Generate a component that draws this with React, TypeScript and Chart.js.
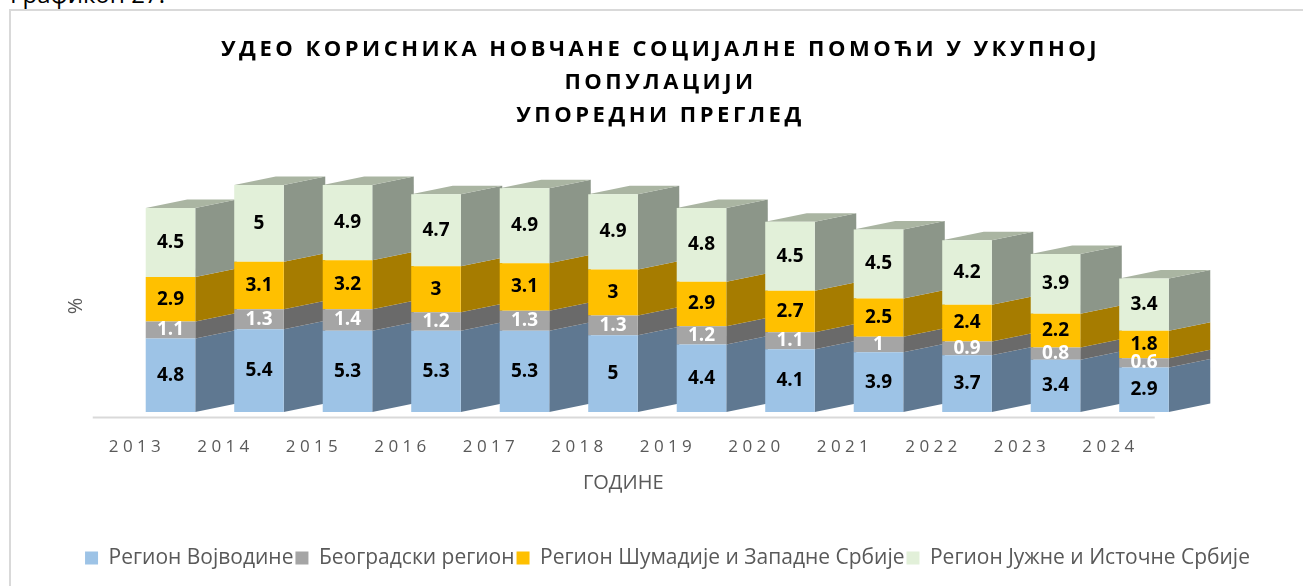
import React, { useEffect, useRef } from "react";
import { Chart, registerables } from "chart.js";

Chart.register(...registerables);

const years = ["2013", "2014", "2015", "2016", "2017", "2018", "2019", "2020", "2021", "2022", "2023", "2024"];
const vojvodina = [4.8, 5.4, 5.3, 5.3, 5.3, 5, 4.4, 4.1, 3.9, 3.7, 3.4, 2.9];
const belgrade = [1.1, 1.3, 1.4, 1.2, 1.3, 1.3, 1.2, 1.1, 1, 0.9, 0.8, 0.6];
const sumadija = [2.9, 3.1, 3.2, 3, 3.1, 3, 2.9, 2.7, 2.5, 2.4, 2.2, 1.8];
const south = [4.5, 5, 4.9, 4.7, 4.9, 4.9, 4.8, 4.5, 4.5, 4.2, 3.9, 3.4];

const seriesNames = ["Регион Војводине", "Београдски регион", "Регион Шумадије и Западне Србије", "Регион Јужне и Источне Србије"];
const frontColors = ["#9DC3E6", "#A5A5A5", "#FFC000", "#E2F0D9"];
const sideColors = ["#5F7891", "#6A6A6A", "#A67C00", "#8C9689"];
const labelColors = ["#000000", "#FFFFFF", "#000000", "#000000"];
const TOP_COLOR = "#AAB5A2";
const DEPTH_X = 41.5;
const DEPTH_Y = 8.5;
const LABEL_SHIFT = -33.5;
const FONT = "'Open Sans', sans-serif";

function shift(obj: any, method: string, dx: number, dy: number, spacing?: string) {
  const orig = obj[method];
  obj[method] = function (...args: any[]) {
    const ctx = this.ctx;
    ctx.save();
    ctx.translate(dx, dy);
    if (spacing) ctx.letterSpacing = spacing;
    orig.apply(this, args);
    ctx.restore();
  };
}

const patched = new WeakSet<object>();

const prism3d = {
  id: "prism3d",
  beforeDraw(chart: any) {
    if (patched.has(chart)) return;
    patched.add(chart);
    shift(chart.titleBlock, "draw", 9, 0, "3.5px");
    shift(chart.legend, "draw", 16, 0);
    shift(chart.scales.x, "drawLabels", 0, 0, "4.4px");
    shift(chart.scales.x, "drawTitle", -34, 0);
    shift(chart.scales.y, "drawTitle", 0, 32);
  },
  beforeDatasetsDraw(chart: any) {
    const { ctx, scales } = chart;
    ctx.save();
    ctx.strokeStyle = "#D9D9D9";
    ctx.lineWidth = 2;
    ctx.beginPath();
    ctx.moveTo(scales.x.left + LABEL_SHIFT, scales.x.top + 5.5);
    ctx.lineTo(scales.x.right + LABEL_SHIFT, scales.x.top + 5.5);
    ctx.stroke();
    const count = chart.data.labels.length;
    const metas = chart.data.datasets.map((_: any, i: number) => chart.getDatasetMeta(i));
    for (let c = 0; c < count; c++) {
      metas.forEach((meta: any, d: number) => {
        const el = meta.data[c];
        const right = el.x + el.width / 2;
        ctx.fillStyle = sideColors[d];
        ctx.beginPath();
        ctx.moveTo(right, el.base);
        ctx.lineTo(right + DEPTH_X, el.base - DEPTH_Y);
        ctx.lineTo(right + DEPTH_X, el.y - DEPTH_Y);
        ctx.lineTo(right, el.y);
        ctx.closePath();
        ctx.fill();
        if (d === metas.length - 1) {
          const left = el.x - el.width / 2;
          ctx.fillStyle = TOP_COLOR;
          ctx.beginPath();
          ctx.moveTo(left, el.y);
          ctx.lineTo(right, el.y);
          ctx.lineTo(right + DEPTH_X, el.y - DEPTH_Y);
          ctx.lineTo(left + DEPTH_X, el.y - DEPTH_Y);
          ctx.closePath();
          ctx.fill();
        }
      });
    }
    ctx.restore();
  },
  afterDatasetsDraw(chart: any) {
    const { ctx } = chart;
    ctx.save();
    ctx.font = `bold 19px ${FONT}`;
    ctx.textAlign = "center";
    ctx.textBaseline = "middle";
    chart.data.datasets.forEach((ds: any, d: number) => {
      chart.getDatasetMeta(d).data.forEach((el: any, i: number) => {
        ctx.fillStyle = labelColors[d];
        ctx.fillText(String(ds.data[i]), el.x, (el.y + el.base) / 2);
      });
    });
    ctx.restore();
  },
};

export default function App() {
  const ref = useRef<HTMLCanvasElement>(null);
  useEffect(() => {
    document.body.style.margin = "0";
    const data = [vojvodina, belgrade, sumadija, south];
    const chart = new Chart(ref.current!, {
      type: "bar",
      data: {
        labels: years,
        datasets: seriesNames.map((label, i) => ({
          label,
          data: data[i],
          backgroundColor: frontColors[i],
          borderWidth: 0,
          barPercentage: 0.56,
          categoryPercentage: 1,
        })),
      },
      plugins: [prism3d],
      options: {
        animation: false,
        responsive: false,
        layout: { padding: { left: 0, right: 0, top: 28, bottom: 7.5 } },
        plugins: {
          tooltip: { enabled: false },
          title: {
            display: true,
            text: ["УДЕО КОРИСНИКА НОВЧАНЕ СОЦИЈАЛНЕ ПОМОЋИ У УКУПНОЈ", "ПОПУЛАЦИЈИ", "УПОРЕДНИ ПРЕГЛЕД"],
            color: "#000000",
            font: { family: FONT, size: 22, weight: "bold", lineHeight: 1.5 },
            padding: { top: 5, bottom: 4 },
          },
          legend: {
            position: "bottom",
            labels: {
              font: { family: FONT, size: 21 },
              color: "#595959",
              boxWidth: 13,
              boxHeight: 13,
              padding: 2,
            },
          },
        },
        scales: {
          x: {
            stacked: true,
            afterFit: (s: any) => { s.height = 133.5; },
            grid: { display: false },
            border: { display: false },
            ticks: {
              autoSkip: false,
              maxRotation: 0,
              labelOffset: LABEL_SHIFT,
              color: "#595959",
              font: { family: FONT, size: 17 },
              padding: 16.5,
            },
            title: {
              display: true,
              text: "ГОДИНЕ",
              color: "#595959",
              font: { family: FONT, size: 20 },
              padding: { top: 0, bottom: 50 },
            },
          },
          y: {
            stacked: true,
            min: 0,
            max: 18,
            afterFit: (s: any) => { s.width = 126.25; },
            grid: { display: false },
            border: { display: false },
            ticks: { display: false },
            title: {
              display: true,
              text: "%",
              color: "#595959",
              font: { family: FONT, size: 20 },
              padding: { top: 64, bottom: 0 },
            },
          },
          yReserve: {
            position: "right",
            min: 0,
            max: 18,
            afterFit: (s: any) => { s.width = 114.75; },
            grid: { display: false },
            border: { display: false },
            ticks: { display: false },
          },
        },
      },
    } as any);
    return () => chart.destroy();
  }, []);
  return (
    <div style={{ position: "relative", width: 1303, height: 586, overflow: "hidden", background: "#fff" }}>
      <div style={{ position: "absolute", left: 10, top: -20.3, fontFamily: FONT, fontSize: 24, lineHeight: "28px", color: "#000", whiteSpace: "nowrap" }}>Графикон 27.</div>
      <div style={{ position: "absolute", left: 9, top: 9, width: 1400, height: 700, border: "2px solid #D9D9D9" }} />
      <canvas ref={ref} width={1303} height={586} style={{ position: "absolute", left: 0, top: 0 }} />
    </div>
  );
}
